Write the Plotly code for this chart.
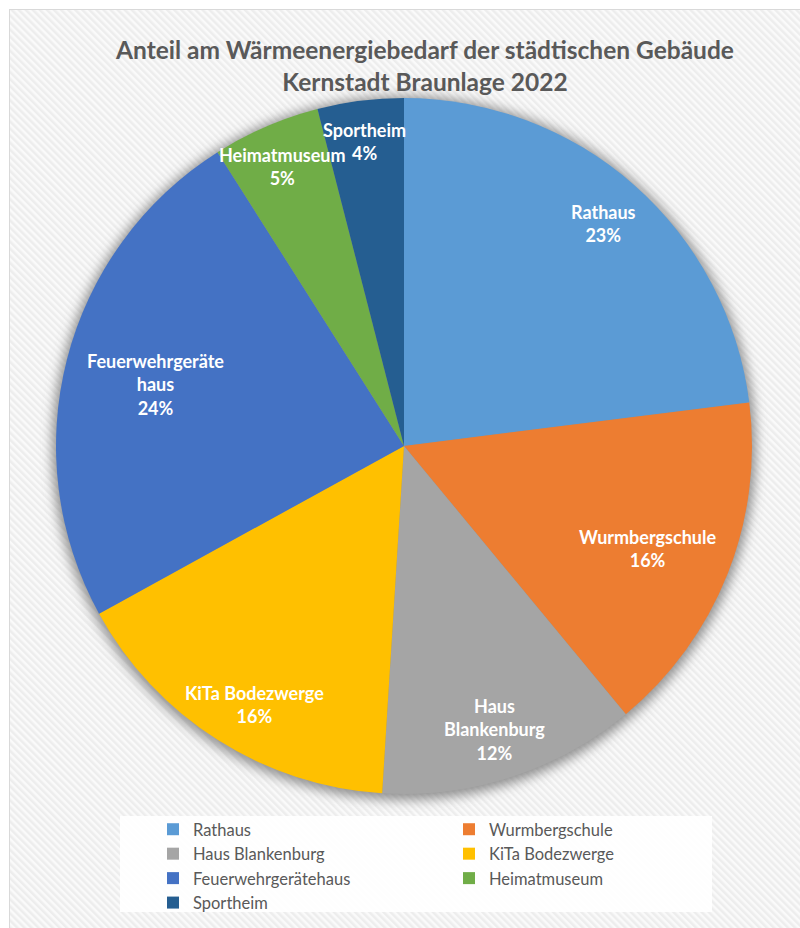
import base64
import plotly.graph_objects as go

# Heat demand share of municipal buildings, Braunlage core town, 2022
labels = ["Rathaus", "Wurmbergschule", "Haus Blankenburg", "KiTa Bodezwerge",
          "Feuerwehrgerätehaus", "Heimatmuseum", "Sportheim"]
shares = [23, 16, 12, 16, 24, 5, 4]
# how each name is wrapped inside its slice
slice_names = ["Rathaus", "Wurmbergschule", "Haus<br>Blankenburg", "KiTa Bodezwerge",
               "Feuerwehrgeräte<br>haus", "Heimatmuseum", "Sportheim"]
colors = ["#5B9BD5", "#ED7D31", "#A5A5A5", "#FFC000", "#4472C4", "#70AD47", "#255E91"]

W, H = 800, 928
CX, CY, R = 404, 446, 348          # pie centre and radius in px

# label anchor points in px (centre of each text block)
label_pos = [(603, 223), (647, 548), (494, 729), (254, 704),
             (155, 385), (282, 166), (364, 142)]

FONT = "Lato"
GREY_TEXT = "#595959"

# page background: framed panel with fine diagonal stripes and a soft pie shadow
svg = f"""<svg xmlns='http://www.w3.org/2000/svg' width='{W}' height='{H}'>
<defs>
<pattern id='st' patternUnits='userSpaceOnUse' width='5' height='5' patternTransform='rotate(45)'>
<rect width='5' height='5' fill='#ededed'/>
<rect width='5' height='2.5' fill='#fafafa'/>
</pattern>
<filter id='bl' x='-20%' y='-20%' width='140%' height='140%'><feGaussianBlur stdDeviation='6'/></filter>
</defs>
<rect width='{W}' height='{H}' fill='white'/>
<rect x='9.5' y='9.5' width='{W}' height='{H}' fill='url(#st)' stroke='#d9d9d9' stroke-width='1'/>
<circle cx='{CX}' cy='{CY + 2}' r='{R + 4}' fill='#6f6f6f' fill-opacity='0.75' filter='url(#bl)'/>
<rect x='120' y='816' width='592' height='96' fill='white' fill-opacity='0.9'/>
</svg>"""
bg_src = "data:image/svg+xml;base64," + base64.b64encode(svg.encode("utf-8")).decode("ascii")

fig = go.Figure()
fig.add_trace(go.Pie(
    labels=labels,
    values=shares,
    marker=dict(colors=colors, line=dict(width=0)),
    sort=False,
    direction="clockwise",
    rotation=0,
    textinfo="none",
    hoverinfo="label+percent",
    domain=dict(x=[(CX - R) / W, (CX + R) / W],
                y=[1 - (CY + R) / H, 1 - (CY - R) / H]),
))

annotations = []
for name, v, (px, py) in zip(slice_names, shares, label_pos):
    annotations.append(dict(
        text=f"{name}<br>{v}%",
        x=px / W, y=1 - py / H, xref="paper", yref="paper",
        xanchor="center", yanchor="middle", showarrow=False,
        font=dict(family=FONT, size=18, color="white", weight="bold"),
        align="center",
    ))

fig.update_layout(
    width=W, height=H,
    margin=dict(l=0, r=0, t=0, b=0),
    paper_bgcolor="white",
    title=dict(
        text="Anteil am Wärmeenergiebedarf der städtischen Gebäude<br>Kernstadt Braunlage 2022",
        x=425 / W, y=1 - 59 / H, xref="paper", yref="paper",
        xanchor="center", yanchor="middle",
        font=dict(family=FONT, size=24.5, color=GREY_TEXT, weight="bold"),
    ),
    legend=dict(
        orientation="h",
        x=153 / W, y=1 - 812 / H, xanchor="left", yanchor="top",
        entrywidth=251, entrywidthmode="pixels",
        font=dict(family=FONT, size=16.5, color=GREY_TEXT),
        bgcolor="rgba(0,0,0,0)",
        traceorder="normal",
    ),
    annotations=annotations,
    images=[dict(source=bg_src, xref="paper", yref="paper", x=0, y=1,
                 sizex=1, sizey=1, xanchor="left", yanchor="top",
                 sizing="stretch", layer="below")],
)

fig.write_html("out.html")
